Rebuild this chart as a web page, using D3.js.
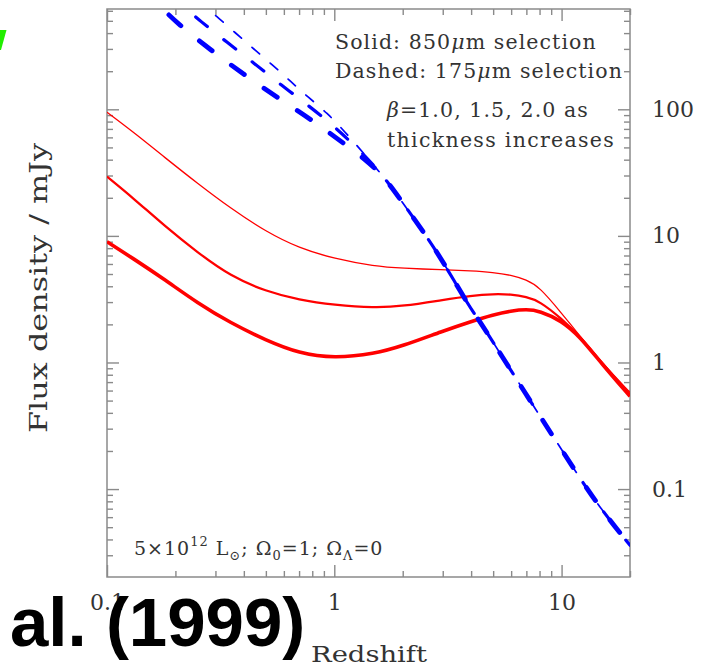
<!DOCTYPE html>
<html>
<head>
<meta charset="utf-8">
<script src="https://cdn.jsdelivr.net/npm/d3@7"></script>
<style>
  body { margin: 0; background: #fff; }
  svg { display: block; }
</style>
</head>
<body>
<div id="chart"></div>
<script>
// Red curves: 850um selection, one value per redshift in `redshift`
const redshift = [0.1, 0.13, 0.18, 0.25, 0.35, 0.5, 0.7, 1, 1.5, 2, 3, 4, 5, 6, 7, 8, 10, 12, 15, 20];
const sel850Beta10 = [94.7, 66.5, 41.5, 26, 16.5, 10.8, 8.0, 6.6, 5.75, 5.55, 5.4, 5.3, 5.15, 4.9, 4.5, 3.95, 2.45, 1.63, 1.0, 0.58];
const sel850Beta15 = [29.4, 20.0, 11.9, 7.4, 4.8, 3.65, 3.12, 2.85, 2.7, 2.78, 3.12, 3.37, 3.48, 3.45, 3.3, 3.05, 2.22, 1.62, 0.99, 0.56];
const sel850Beta20 = [9.0, 6.65, 4.5, 2.95, 2.05, 1.5, 1.18, 1.08, 1.17, 1.35, 1.77, 2.11, 2.38, 2.56, 2.63, 2.56, 2.14, 1.61, 0.98, 0.54];

// Blue curves: 175um selection, separate low-z parts, common high-z tail
const sel175Beta10Z = [0.25, 0.277, 0.306, 0.369, 0.444, 0.535, 0.645, 0.762, 0.934, 1.107];
const sel175Beta10 = [725, 617, 538, 398, 298, 224, 165, 126, 93, 67.4];
const sel175Beta15Z = [0.2, 0.222, 0.254, 0.339, 0.444, 0.582, 0.776, 1.0, 1.29];
const sel175Beta15 = [740, 628, 507, 336, 231, 156, 106, 73, 47.8];
const sel175Beta20Z = [0.16, 0.175, 0.204, 0.286, 0.402, 0.573, 0.816, 1.144, 1.355];
const sel175Beta20 = [736, 628, 477, 294, 187, 121, 80, 51, 40.8];
const sel175TailZ = [1.63, 1.93, 2.62, 3.1, 3.93, 4.28, 5.15, 7.23, 10, 14.2, 20];
const sel175Tail = [30.3, 20, 9.25, 5.7, 2.76, 2.23, 1.33, 0.506, 0.205, 0.077, 0.036];

// Axis ticks
const xMajor = [0.1, 1, 10];
const xMinor = [0.2, 0.3, 0.4, 0.5, 0.6, 0.7, 0.8, 0.9, 2, 3, 4, 5, 6, 7, 8, 9, 20];
const yMajor = [0.1, 1, 10, 100];
const yDecades = [0.01, 0.1, 1, 10, 100];
const yMultipliers = [2, 3, 4, 5, 6, 7, 8, 9];

const W = 715, H = 668;
const plot = { left: 107, right: 630, top: 9, bottom: 577 };

const svg = d3.select('#chart').append('svg')
  .attr('width', W)
  .attr('height', H);

const x = d3.scaleLog().domain([0.1, 20]).range([plot.left, plot.right]);
const y = d3.scaleLog().domain([0.0202, 620]).range([plot.bottom, plot.top]);

const yMinor = [];
yDecades.forEach(d => yMultipliers.forEach(m => {
  const v = d * m;
  if (v > y.domain()[0] && v < y.domain()[1]) yMinor.push(v);
}));

const serif = '"DejaVu Serif", serif';
const axisColor = '#8a8a8a';

function styleAxis(g) {
  g.select('.domain').remove();
  g.selectAll('line').attr('stroke', axisColor).attr('stroke-width', 1.4);
  g.selectAll('text')
    .attr('font-family', serif)
    .attr('font-size', 22)
    .attr('fill', '#333');
}

// bottom
svg.append('g').attr('transform', 'translate(0,' + plot.bottom + ')')
  .call(d3.axisBottom(x).tickValues(xMajor).tickSize(-12).tickPadding(17).tickFormat(d => String(d)))
  .call(styleAxis);
svg.append('g').attr('transform', 'translate(0,' + plot.bottom + ')')
  .call(d3.axisBottom(x).tickValues(xMinor).tickSize(-6).tickFormat(''))
  .call(styleAxis);
// top
svg.append('g').attr('transform', 'translate(0,' + plot.top + ')')
  .call(d3.axisTop(x).tickValues(xMajor).tickSize(-12).tickFormat(''))
  .call(styleAxis);
svg.append('g').attr('transform', 'translate(0,' + plot.top + ')')
  .call(d3.axisTop(x).tickValues(xMinor).tickSize(-6).tickFormat(''))
  .call(styleAxis);
// left
svg.append('g').attr('transform', 'translate(' + plot.left + ',0)')
  .call(d3.axisLeft(y).tickValues(yMajor).tickSize(-12).tickFormat(''))
  .call(styleAxis);
svg.append('g').attr('transform', 'translate(' + plot.left + ',0)')
  .call(d3.axisLeft(y).tickValues(yMinor).tickSize(-6).tickFormat(''))
  .call(styleAxis);
// right, with labels
svg.append('g').attr('transform', 'translate(' + plot.right + ',0)')
  .call(d3.axisRight(y).tickValues(yMajor).tickSize(-12).tickPadding(22).tickFormat(d => String(d)))
  .call(styleAxis);
svg.append('g').attr('transform', 'translate(' + plot.right + ',0)')
  .call(d3.axisRight(y).tickValues(yMinor).tickSize(-6).tickFormat(''))
  .call(styleAxis);

// frame
svg.append('rect')
  .attr('x', plot.left).attr('y', plot.top)
  .attr('width', plot.right - plot.left).attr('height', plot.bottom - plot.top)
  .attr('fill', 'none')
  .attr('stroke', axisColor)
  .attr('stroke-width', 1.5);

// clip for curves
svg.append('clipPath').attr('id', 'plot-clip')
  .append('rect')
  .attr('x', plot.left).attr('y', plot.top)
  .attr('width', plot.right - plot.left).attr('height', plot.bottom - plot.top);

const line = d3.line()
  .x(d => x(d[0]))
  .y(d => y(d[1]))
  .curve(d3.curveBasis);

const curves = svg.append('g').attr('clip-path', 'url(#plot-clip)');

const redSeries = [
  { values: sel850Beta10, width: 1.3 },
  { values: sel850Beta15, width: 2.3 },
  { values: sel850Beta20, width: 3.6 }
];
redSeries.forEach(s => {
  curves.append('path')
    .datum(redshift.map((z, i) => [z, s.values[i]]))
    .attr('fill', 'none')
    .attr('stroke', '#ff0000')
    .attr('stroke-width', s.width)
    .attr('d', line);
});

const tail = sel175TailZ.map((z, i) => [z, sel175Tail[i]]);
const blueSeries = [
  { z: sel175Beta10Z, values: sel175Beta10, width: 1.7, dash: '10,14', offset: 0 },
  { z: sel175Beta15Z, values: sel175Beta15, width: 3.2, dash: '15,21', offset: 9 },
  { z: sel175Beta20Z, values: sel175Beta20, width: 4.8, dash: '16,24', offset: 18 }
];
blueSeries.forEach(s => {
  curves.append('path')
    .datum(s.z.map((z, i) => [z, s.values[i]]).concat(tail))
    .attr('fill', 'none')
    .attr('stroke', '#0000ff')
    .attr('stroke-width', s.width)
    .attr('stroke-linecap', 'round')
    .attr('stroke-dasharray', s.dash)
    .attr('stroke-dashoffset', s.offset)
    .attr('d', line);
});

// axis titles
svg.append('text')
  .attr('x', 311).attr('y', 662)
  .attr('font-family', serif).attr('font-size', 22).attr('fill', '#333')
  .attr('textLength', 116).attr('lengthAdjust', 'spacingAndGlyphs')
  .text('Redshift');

svg.append('text')
  .attr('transform', 'translate(47,288) rotate(-90)')
  .attr('text-anchor', 'middle')
  .attr('font-family', serif).attr('font-size', 24).attr('fill', '#333')
  .attr('textLength', 290).attr('lengthAdjust', 'spacingAndGlyphs')
  .text('Flux density / mJy');

// annotations
function note(xp, yp, size, spacing) {
  return svg.append('text')
    .attr('x', xp).attr('y', yp)
    .attr('font-family', serif).attr('font-size', size)
    .attr('letter-spacing', spacing)
    .attr('fill', '#333');
}

let t = note(335, 49, 20.5, 1.1);
t.append('tspan').text('Solid: 850');
t.append('tspan').attr('font-style', 'italic').text('\u03bc');
t.append('tspan').text('m selection');

t = note(335, 78, 20.5, 1.1);
t.append('tspan').text('Dashed: 175');
t.append('tspan').attr('font-style', 'italic').text('\u03bc');
t.append('tspan').text('m selection');

t = note(387, 117, 20.5, 1.1);
t.append('tspan').attr('font-style', 'italic').text('\u03b2');
t.append('tspan').text('=1.0, 1.5, 2.0 as');

note(387, 147, 20.5, 1.3).text('thickness increases');

t = note(134, 555, 19, 1.0);
t.append('tspan').text('5\u00d710');
t.append('tspan').attr('font-size', 13).attr('dy', -9).text('12');
t.append('tspan').attr('dy', 9).text(' L');
t.append('tspan').attr('font-size', 13).attr('dy', 5).text('\u2299');
t.append('tspan').attr('dy', -5).text('; \u03a9');
t.append('tspan').attr('font-size', 13).attr('dy', 5).text('0');
t.append('tspan').attr('dy', -5).text('=1; \u03a9');
t.append('tspan').attr('font-size', 13).attr('dy', 5).text('\u039b');
t.append('tspan').attr('dy', -5).text('=0');

// overlaid slide text
svg.append('text')
  .attr('x', 10).attr('y', 646)
  .attr('font-family', '"Liberation Sans", Arial, sans-serif')
  .attr('font-weight', 'bold')
  .attr('font-size', 69)
  .attr('fill', '#000')
  .text('al. (1999)');

svg.append('path')
  .attr('d', 'M0,30 L6.5,30 L1,50 L0,50 Z')
  .attr('fill', '#22ee00');
</script>
</body>
</html>
